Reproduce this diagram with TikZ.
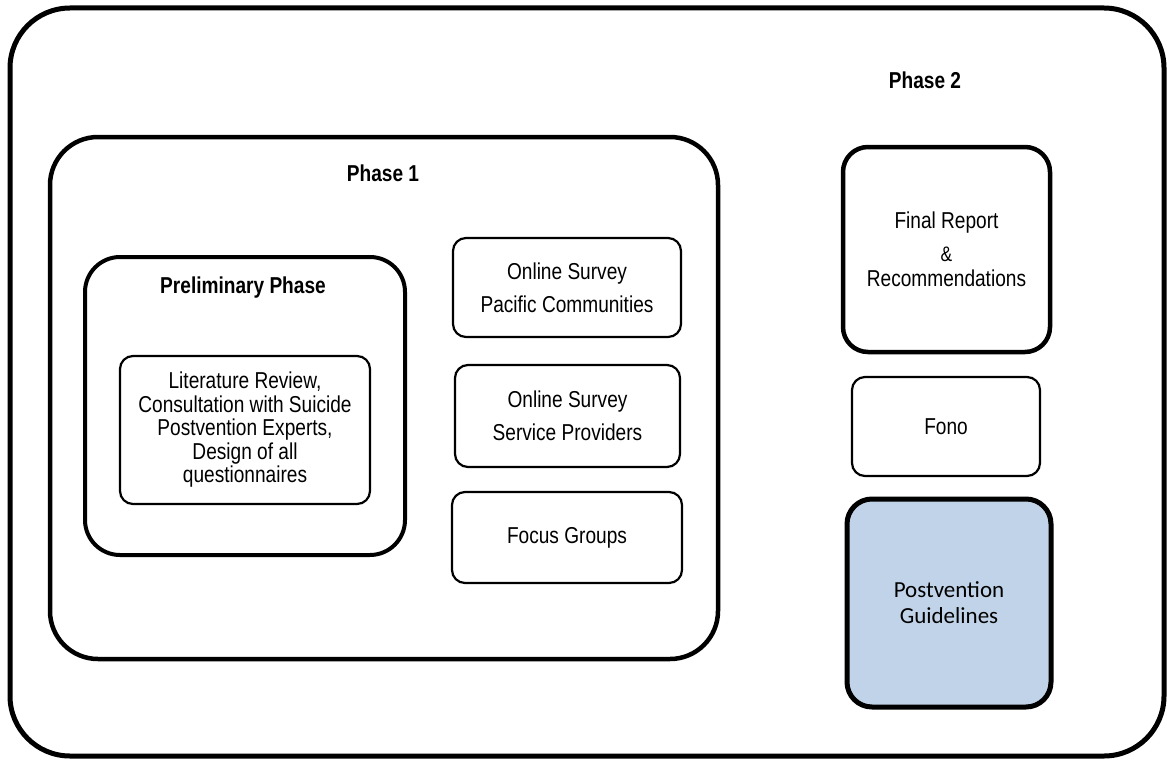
\documentclass[tikz,border=0pt]{standalone}
\usepackage{fontspec}
\setmainfont[FakeStretch=0.83]{Liberation Sans}
\newfontfamily\calfont{Carlito}
\usepackage{tikz}
\definecolor{guidefill}{RGB}{193,211,232}
\tikzset{
  bigbox/.style={draw, rounded corners=#1, line width=4.5pt, inner sep=0pt},
  thinbox/.style={draw, rounded corners=13pt, line width=2.2pt, inner sep=0pt, align=center,
    font=\fontsize{23}{33}\selectfont},
  phaselabel/.style={font=\bfseries\fontsize{23}{26}\selectfont}
}
\begin{document}
\begin{tikzpicture}[x=1pt, y=-1pt]
\useasboundingbox (0,0) rectangle (1167,760);
% frames
\node[bigbox=60pt, line width=5pt, minimum width=1154pt, minimum height=748pt] (outer) at (587,382) {};
\node[bigbox=48pt, minimum width=668pt, minimum height=522pt] (phaseone) at (384,398) {};
\node[bigbox=35pt, line width=4pt, minimum width=320pt, minimum height=298pt] (prelim) at (245,406) {};
\node[phaselabel] (phasetwolbl) at (925,80) {Phase 2};
\node[phaselabel] (phaseonelbl) at (383,173) {Phase 1};
\node[phaselabel] (prelimlbl) at (243,288) {Preliminary Phase};
% phase 1 contents
\node[thinbox, minimum width=250pt, minimum height=148pt, font=\fontsize{23}{23.5}\selectfont]
  (litrev) at (245,430) {Literature Review,\\Consultation with Suicide\\Postvention Experts,\\Design of all\\questionnaires};
\node[thinbox, minimum width=228pt, minimum height=99pt] (pacific) at (567,287.5) {Online Survey\\Pacific Communities};
\node[thinbox, minimum width=225pt, minimum height=102pt] (service) at (567.5,416) {Online Survey\\Service Providers};
\node[thinbox, minimum width=230pt, minimum height=91pt] (focus) at (567,537.5) {Focus Groups};
% phase 2 contents
\node[bigbox=25pt, minimum width=207pt, minimum height=205pt, align=center, font=\fontsize{23}{29}\selectfont]
  (final) at (946.5,249.5) {Final Report\\[4pt]{\fontsize{21}{21}\selectfont\&}\\[-4pt]Recommendations};
\node[thinbox, minimum width=188pt, minimum height=99pt] (fono) at (946,426.5) {Fono};
\node[bigbox=25pt, line width=5pt, fill=guidefill, minimum width=204pt, minimum height=208pt, align=center,
  font=\calfont\fontsize{23}{26}\selectfont] (guide) at (949,603) {Postvention\\Guidelines};
\end{tikzpicture}
\end{document}
